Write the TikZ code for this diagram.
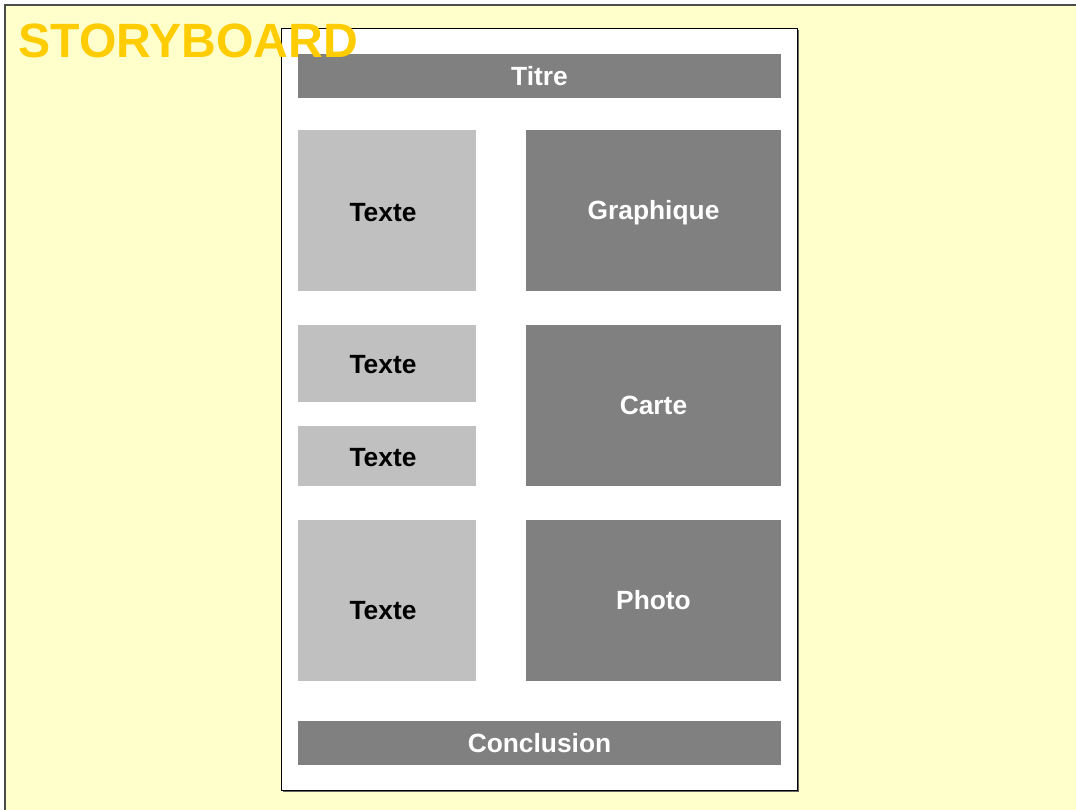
\documentclass[tikz,border=0pt]{standalone}
\usepackage{fontspec}
\setmainfont{Liberation Sans}
\usepackage{tikz}
\usetikzlibrary{calc}
\usepackage{xcolor}

\definecolor{paper}{HTML}{FFFFCC}
\definecolor{gold}{HTML}{FFCC00}
\definecolor{dark}{HTML}{808080}
\definecolor{light}{HTML}{C0C0C0}

\tikzset{
  panel/.style 2 args={rectangle, inner sep=0pt,
    minimum width=#1*0.02cm, minimum height=#2*0.02cm},
  textpanel/.style 2 args={panel={#1}{#2}, fill=light},
  mediapanel/.style 2 args={panel={#1}{#2}, fill=dark, text=white, caption},
  caption/.style={font=\bfseries\fontsize{15}{18}\selectfont, text height=10.8pt, text depth=0pt}
}

\begin{document}
\begin{tikzpicture}[x=0.02cm, y=-0.02cm]
  \useasboundingbox (0,0) rectangle (1076,810);
  % background
  \fill[white] (0,0) rectangle (1076,810);
  \fill[paper] (5,5) rectangle (1076,810);
  \draw[black!70, line width=0.6pt] (5,810) -- (5,5) -- (1076,5);

  % page with its shadow
  \fill[black!60] (283,30) rectangle (799,792);
  \draw[fill=white, line width=0.5pt] (281,28) rectangle (797,790);

  % header and footer bars
  \node[mediapanel={483}{44}] (titre) at (539.5,76) {Titre};
  \node[mediapanel={483}{44}] (conclusion) at (539.5,743) {Conclusion};

  % left column: text blocks
  \node[textpanel={178}{161}] (texteA) at (387,210.5) {};
  \node[textpanel={178}{77}]  (texteB) at (387,363.5) {};
  \node[textpanel={178}{60}]  (texteC) at (387,456) {};
  \node[textpanel={178}{161}] (texteD) at (387,600.5) {};
  \node[caption] (texteAlbl) at ($(texteA)+(-4,1.5)$) {Texte};
  \node[caption] (texteBlbl) at ($(texteB)+(-4,0.5)$) {Texte};
  \node[caption] (texteClbl) at ($(texteC)+(-4,1)$) {Texte};
  \node[caption] (texteDlbl) at ($(texteD)+(-4,9.5)$) {Texte};

  % right column: media blocks
  \node[mediapanel={255}{161}] (graphique) at (653.5,210.5) {Graphique};
  \node[mediapanel={255}{161}] (carte) at (653.5,405.5) {Carte};
  \node[mediapanel={255}{161}] (photo) at (653.5,600.5) {Photo};

  % heading
  \node[anchor=west, inner sep=0pt, text=gold, font=\bfseries\fontsize{27.4}{30}\selectfont]
    (heading) at (18,41) {STORYBOARD};
\end{tikzpicture}
\end{document}
